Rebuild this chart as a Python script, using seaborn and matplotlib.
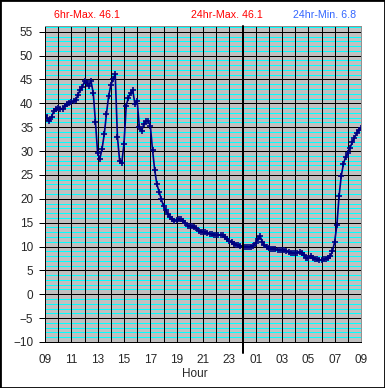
import numpy as np
import pandas as pd
import seaborn as sns
from matplotlib import pyplot as plt
from matplotlib import ticker as tick
from matplotlib.patches import Rectangle

# sampling grid: minutes after 09:00, one reading every 10 minutes
minutes = np.arange(0, 24 * 60 + 1, 10)

temps = [
    37.6, 37.0, 36.2, 37.2, 38.4, 38.8,  # 09
    39.0, 38.9, 38.9, 39.4, 39.8, 40.0,  # 10
    40.2, 40.4, 40.6, 41.8, 42.8, 43.4,  # 11
    44.6, 44.2, 43.6, 44.6, 42.1, 36.0,  # 12
    29.5, 28.4, 30.5, 33.5, 37.8, 41.5,  # 13
    43.8, 45.0, 46.1, 33.0, 28.0, 27.6,  # 14
    31.5, 39.5, 41.2, 42.2, 42.7, 39.8,  # 15
    40.5, 35.0, 34.2, 35.6, 36.2, 36.3,  # 16
    35.3, 30.2, 26.0, 23.0, 21.5, 19.9,  # 17
    18.5, 17.6, 16.8, 16.2, 15.8, 15.4,  # 18
    15.6, 15.7, 15.7, 15.4, 14.9, 14.4,  # 19
    14.3, 14.2, 14.0, 13.8, 13.3, 13.1,  # 20
    13.0, 13.0, 12.9, 12.7, 12.6, 12.5,  # 21
    12.5, 12.4, 12.5, 12.5, 11.9, 11.5,  # 22
    11.1, 10.9, 10.6, 10.4, 10.3, 10.2,  # 23
    10.0, 10.0, 10.0, 9.9, 10.0, 10.2,   # 00
    10.8, 11.5, 12.2, 11.0, 10.3, 10.0,  # 01
    9.7, 9.5, 9.4, 9.4, 9.3, 9.2,        # 02
    9.2, 9.3, 9.1, 8.9, 8.7, 8.6,        # 03
    8.6, 8.7, 8.9, 8.6, 8.2, 7.7,        # 04
    7.7, 8.0, 7.6, 7.4, 7.3, 7.2,        # 05
    7.2, 7.3, 7.4, 7.6, 8.0, 9.0,        # 06
    11.0, 14.5, 20.5, 24.8, 27.3, 28.8,  # 07
    29.6, 30.7, 31.8, 32.8, 33.7, 34.4,  # 08
    34.8,                                # 09
]

hour_ticks = list(range(0, 25, 2))
hour_labels = ["09", "11", "13", "15", "17", "19", "21", "23",
               "01", "03", "05", "07", "09"]
header_texts = ["6hr-Max. 46.1", "24hr-Max. 46.1", "24hr-Min. 6.8"]

PX = 0.72  # one pixel at 100 dpi, in points


def main():
    df = pd.DataFrame({"hour": minutes / 60.0, "temp": temps})

    sns.set_style("white")
    plt.rcParams["font.family"] = ["Liberation Sans", "DejaVu Sans"]

    fig = plt.figure(figsize=(3.85, 3.88), dpi=100)
    ax = fig.add_axes([45 / 385, 46 / 388, 316 / 385, 316 / 388])
    ax.set_facecolor("#c0c0c0")

    g = sns.lineplot(
        data=df,
        x="hour",
        y="temp",
        color="#000080",
        lw=1.2,
        marker="+",
        markersize=5,
        markeredgewidth=1.2,
        markeredgecolor="#000080",
        markerfacecolor="#000080",
        ax=ax,
    )

    g.set_xlim(0, 24)
    g.set_ylim(-10, 56.2)
    g.set_xticks(hour_ticks)
    g.set_xticklabels(hour_labels)
    g.xaxis.set_minor_locator(tick.MultipleLocator(1))
    g.set_yticks(range(-10, 56, 5))
    g.yaxis.set_minor_locator(tick.MultipleLocator(1))

    g.set_axisbelow(True)
    # horizontal grid under the vertical one, like the old excel look
    g.yaxis.set_zorder(0.3)
    g.xaxis.set_zorder(0.4)
    g.grid(True, which="minor", axis="y", color="#00ffff", lw=PX, antialiased=False)
    g.grid(True, which="major", axis="y", color="black", lw=PX, antialiased=False)
    g.grid(True, which="both", axis="x", color="black", lw=PX, antialiased=False)

    g.tick_params(axis="y", which="major", length=4, width=PX, color="black",
                  pad=4.5, labelsize=8.5, left=True)
    g.tick_params(axis="x", which="major", length=0, pad=8.5, labelsize=8.5)
    g.tick_params(which="minor", length=0)

    for side in ["left", "bottom"]:
        g.spines[side].set_color("black")
        g.spines[side].set_linewidth(PX)
    for side in ["top", "right"]:
        g.spines[side].set_color("#909090")
        g.spines[side].set_linewidth(PX)

    # midnight marker
    g.axvline(15, ymin=-0.035, ymax=1, color="black", lw=2 * PX, clip_on=False, zorder=3)

    g.set_ylabel("")
    g.set_xlabel("Hour", fontsize=8.5)
    g.xaxis.set_label_coords(0.475, -0.082)

    fig.text(54 / 385, 373 / 388, header_texts[0], color="#ff0000",
             fontsize=7.7, ha="left", va="center")
    fig.text(227 / 385, 373 / 388, header_texts[1], color="#ff0000",
             fontsize=7.7, ha="center", va="center")
    fig.text(293 / 385, 373 / 388, header_texts[2], color="#3366ff",
             fontsize=7.7, ha="left", va="center")

    fig.patches.append(Rectangle((0, 0), 1, 1, transform=fig.transFigure,
                                 fill=False, ec="black", lw=2))

    plt.savefig("out.png", dpi=100)


if __name__ == "__main__":
    main()
